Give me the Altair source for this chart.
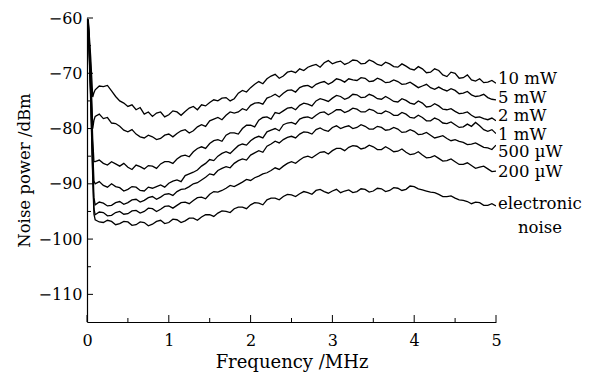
import altair as alt
import pandas as pd

# frequency grid (MHz): the low-frequency spike, then every 0.05 MHz from 0.1 to 5.0
spike_freq = [0.0, 0.015, 0.045, 0.07, 0.085]
grid_freq = [round(0.1 + 0.05 * i, 2) for i in range(99)]
freq = spike_freq + grid_freq

spike = {
    "10 mW": [-64.0, -60.2, -67.0, -74.3, -73.5],
    "5 mW": [-63.5, -60.4, -69.0, -80.0, -78.5],
    "2 mW": [-64.5, -60.6, -71.0, -82.0, -86.0],
    "1 mW": [-65.0, -60.8, -72.0, -84.0, -89.5],
    "500 µW": [-65.5, -61.0, -73.0, -86.0, -92.5],
    "200 µW": [-66.0, -61.2, -74.0, -88.0, -94.5],
    "electronic noise": [-66.5, -61.5, -75.0, -89.0, -95.5],
}

p10mW = [-73.0, -72.3, -72.4, -72.2, -73.2, -74.2, -75.0, -75.4, -76.0, -75.7,
         -76.6, -76.2, -77.4, -77.0, -77.8, -77.2, -77.0, -77.9, -77.5, -76.8,
         -77.0, -77.6, -76.9, -76.3, -76.0, -76.6, -75.7, -75.9, -75.3, -74.8,
         -75.0, -74.5, -74.4, -75.0, -74.6, -73.6, -73.1, -73.4, -72.6, -72.0,
         -71.5, -71.9, -71.0, -70.5, -70.2, -70.9, -70.5, -69.8, -69.6, -69.9,
         -69.2, -69.5, -68.9, -68.6, -68.4, -68.9, -68.1, -67.7, -68.3, -68.0,
         -67.8, -68.4, -68.1, -67.6, -67.7, -68.3, -68.2, -67.6, -67.9, -68.4,
         -68.6, -68.0, -68.3, -68.8, -68.9, -68.3, -68.7, -69.2, -69.4, -68.8,
         -69.2, -69.9, -69.8, -69.2, -69.5, -70.3, -70.6, -69.8, -70.0, -70.9,
         -70.8, -70.3, -71.2, -71.4, -71.0, -71.7, -71.6, -71.3, -71.8]
p5mW = [-77.8, -77.4, -78.2, -78.0, -79.0, -79.1, -79.6, -80.3, -80.6, -80.2,
        -81.0, -81.5, -81.7, -81.2, -81.5, -82.0, -81.8, -81.2, -81.0, -81.5,
        -80.9, -80.4, -80.2, -80.8, -80.4, -79.7, -79.3, -79.6, -78.6, -78.3,
        -78.0, -78.4, -77.6, -77.0, -77.2, -77.0, -76.4, -76.7, -75.8, -75.4,
        -75.3, -75.6, -74.5, -74.2, -73.8, -74.3, -73.6, -73.1, -73.0, -73.4,
        -72.6, -72.3, -72.2, -72.6, -72.0, -71.7, -71.5, -72.0, -71.6, -71.0,
        -71.2, -71.6, -71.0, -71.2, -71.3, -70.8, -70.9, -71.5, -71.4, -70.9,
        -71.2, -71.7, -71.6, -71.2, -71.5, -72.0, -71.9, -71.6, -72.1, -72.6,
        -72.3, -72.0, -72.6, -72.9, -72.5, -72.9, -73.2, -72.8, -73.1, -73.7,
        -73.6, -73.3, -73.9, -74.2, -74.1, -73.8, -74.4, -74.7, -74.8]
p2mW = [-86.0, -85.7, -86.3, -86.6, -86.0, -86.4, -86.8, -86.3, -87.0, -87.4,
        -86.6, -86.9, -87.3, -86.7, -86.8, -87.2, -86.4, -86.0, -86.0, -86.3,
        -85.5, -85.0, -84.8, -85.1, -84.2, -83.6, -83.3, -83.6, -82.7, -82.2,
        -82.0, -82.3, -81.2, -80.8, -80.8, -81.0, -80.0, -79.4, -79.4, -79.7,
        -78.5, -78.0, -77.9, -78.3, -77.1, -77.3, -76.8, -76.3, -76.2, -76.6,
        -75.8, -75.4, -75.6, -75.9, -75.0, -74.6, -74.8, -75.1, -74.5, -74.0,
        -74.2, -74.7, -74.4, -73.8, -73.9, -74.4, -74.3, -73.8, -74.1, -74.6,
        -74.7, -74.2, -74.6, -75.1, -75.2, -74.6, -74.9, -75.4, -75.6, -75.0,
        -75.4, -76.1, -76.0, -75.5, -75.9, -76.5, -76.6, -76.4, -76.9, -77.3,
        -77.2, -77.0, -77.6, -78.0, -77.9, -78.2, -78.4, -78.1, -78.6]
p1mW = [-90.0, -89.6, -90.3, -90.6, -90.0, -90.5, -90.7, -91.3, -91.0, -90.5,
        -90.6, -91.2, -91.3, -90.6, -90.8, -90.5, -90.2, -90.6, -89.9, -89.5,
        -89.3, -89.6, -88.5, -88.2, -87.9, -87.5, -86.8, -86.3, -85.6, -85.8,
        -85.0, -84.5, -84.2, -84.5, -83.8, -83.1, -82.8, -83.0, -82.2, -81.7,
        -81.4, -81.7, -80.6, -80.3, -80.0, -80.4, -79.3, -79.0, -78.9, -79.2,
        -78.3, -78.0, -77.9, -78.2, -77.6, -77.1, -77.0, -77.5, -77.1, -76.6,
        -76.6, -77.1, -76.8, -76.3, -76.5, -77.0, -77.0, -76.5, -76.7, -77.2,
        -77.3, -76.8, -77.1, -77.6, -77.6, -77.1, -77.4, -78.0, -78.1, -77.6,
        -78.0, -78.6, -78.6, -78.1, -78.4, -79.0, -79.1, -78.8, -79.3, -79.8,
        -79.7, -79.2, -79.6, -78.9, -79.5, -80.2, -80.5, -80.2, -80.9]
p500uW = [-93.8, -93.3, -93.5, -94.0, -93.9, -93.4, -93.2, -93.7, -93.4, -92.9,
          -92.8, -93.3, -93.0, -92.5, -92.3, -92.8, -92.4, -91.9, -91.8, -92.1,
          -91.4, -91.0, -90.9, -90.5, -90.0, -89.8, -89.3, -88.8, -88.2, -88.4,
          -87.6, -87.2, -86.9, -87.1, -86.3, -85.8, -85.5, -85.7, -84.8, -84.4,
          -84.0, -84.3, -83.2, -82.8, -82.3, -82.6, -82.0, -81.6, -81.4, -81.7,
          -81.0, -80.6, -80.7, -81.0, -80.2, -79.9, -80.3, -80.5, -79.8, -79.5,
          -80.0, -79.7, -79.5, -80.0, -79.8, -79.3, -79.6, -80.1, -80.1, -79.6,
          -79.8, -80.3, -80.2, -79.8, -80.1, -80.7, -80.6, -80.2, -80.5, -81.1,
          -81.0, -80.7, -81.2, -81.7, -81.5, -81.3, -81.8, -82.2, -82.0, -82.3,
          -82.5, -82.9, -82.8, -82.6, -83.0, -83.4, -83.5, -83.8, -83.0]
p200uW = [-95.6, -95.1, -95.2, -95.8, -95.7, -95.2, -95.0, -95.5, -95.4, -94.9,
          -94.8, -95.3, -95.0, -94.4, -94.5, -95.0, -94.6, -94.1, -94.0, -94.4,
          -93.9, -93.4, -93.3, -93.6, -93.0, -92.5, -92.4, -92.7, -91.9, -91.4,
          -91.5, -91.2, -90.8, -90.3, -90.5, -90.1, -89.7, -89.2, -89.4, -88.9,
          -88.6, -88.2, -88.0, -87.6, -87.1, -87.4, -86.8, -86.3, -86.0, -86.3,
          -85.7, -85.2, -85.0, -85.3, -84.8, -84.3, -84.2, -84.6, -84.0, -83.6,
          -83.6, -84.0, -83.4, -83.1, -83.2, -83.7, -83.5, -83.0, -83.3, -83.8,
          -83.8, -83.3, -83.7, -84.2, -84.1, -83.7, -84.3, -84.7, -84.6, -84.2,
          -84.8, -85.3, -85.2, -84.9, -85.4, -85.9, -85.8, -85.5, -86.0, -86.5,
          -86.5, -86.2, -86.7, -87.2, -87.0, -86.8, -87.3, -87.8, -87.7]
p_elec = [-96.5, -96.9, -97.0, -96.6, -96.8, -97.4, -97.2, -96.8, -96.9, -97.5,
          -97.4, -96.9, -97.0, -97.6, -97.3, -96.8, -96.6, -97.2, -97.0, -96.4,
          -96.5, -97.0, -96.7, -96.2, -96.2, -96.6, -96.0, -95.6, -95.6, -95.9,
          -95.3, -94.9, -95.0, -95.2, -94.5, -94.2, -94.2, -94.5, -93.8, -93.4,
          -93.5, -93.8, -92.9, -92.6, -92.6, -92.9, -92.3, -91.9, -92.0, -92.3,
          -91.8, -91.4, -91.6, -91.9, -91.2, -91.0, -91.4, -91.7, -91.3, -91.0,
          -91.6, -91.3, -91.1, -91.6, -91.4, -90.9, -91.0, -91.5, -91.3, -90.8,
          -90.9, -91.4, -91.2, -90.7, -90.8, -91.2, -91.0, -90.4, -90.5, -90.9,
          -91.1, -91.3, -91.5, -91.6, -91.9, -92.3, -92.3, -92.2, -92.6, -92.9,
          -93.0, -93.2, -93.6, -93.3, -93.4, -93.9, -93.9, -93.6, -94.0]

series_names = ["10 mW", "5 mW", "2 mW", "1 mW", "500 µW", "200 µW", "electronic noise"]
series_values = [p10mW, p5mW, p2mW, p1mW, p500uW, p200uW, p_elec]

label_text = ["10 mW", "5 mW", "2 mW", "1 mW", "500 µW", "200 µW", "electronic"]
label_y = [-71.0, -74.5, -77.8, -81.2, -84.3, -87.8, -93.6]
label2_text = ["noise"]
label2_y = [-98.0]

x_major = [0, 1, 2, 3, 4, 5]
x_minor = [0.5, 1.5, 2.5, 3.5, 4.5]
y_major = [-110, -100, -90, -80, -70, -60]
y_minor = [-105, -95, -85, -75, -65]

rows = []
for name, vals in zip(series_names, series_values):
    assert len(vals) == len(grid_freq), (name, len(vals))
    for f, v in zip(freq, spike[name] + vals):
        rows.append({"series": name, "freq": f, "power": v})
df = pd.DataFrame(rows)

FONT = "DejaVu Serif"
W, H = 409, 304

xscale = alt.Scale(domain=[0, 5], nice=False, zero=False)
yscale = alt.Scale(domain=[-115, -60], nice=False, zero=False)

xaxis = alt.Axis(values=x_major, format="d", ticks=False, grid=False, domainColor="black",
                 domainWidth=1.2, labelFont=FONT, labelFontSize=16, labelColor="black",
                 labelPadding=10, title="Frequency /MHz", titleFont=FONT,
                 titleFontSize=18, titleFontWeight="normal", titleColor="black",
                 titlePadding=5, labelFlush=False)
yaxis = alt.Axis(values=y_major, format="d", ticks=False, grid=False, domainColor="black",
                 domainWidth=1.2, labelFont=FONT, labelFontSize=16, labelColor="black",
                 labelPadding=5, title="Noise power /dBm", titleFont=FONT,
                 titleFontSize=16.5, titleFontWeight="normal", titleColor="black",
                 titlePadding=6, labelFlush=False)

lines = alt.Chart(df).mark_line(color="black", strokeWidth=1.3, clip=True).encode(
    x=alt.X("freq:Q", scale=xscale, axis=xaxis),
    y=alt.Y("power:Q", scale=yscale, axis=yaxis),
    detail="series:N",
    order="freq:Q",
)

xt_major = alt.Chart(pd.DataFrame({"v": x_major})).mark_rule(color="black", strokeWidth=1).encode(
    x=alt.X("v:Q", scale=xscale), y=alt.value(H), y2=alt.value(H - 7))
xt_minor = alt.Chart(pd.DataFrame({"v": x_minor})).mark_rule(color="black", strokeWidth=1).encode(
    x=alt.X("v:Q", scale=xscale), y=alt.value(H), y2=alt.value(H - 4))
yt_major = alt.Chart(pd.DataFrame({"v": y_major})).mark_rule(color="black", strokeWidth=1).encode(
    y=alt.Y("v:Q", scale=yscale), x=alt.value(0), x2=alt.value(6))
yt_minor = alt.Chart(pd.DataFrame({"v": y_minor})).mark_rule(color="black", strokeWidth=1).encode(
    y=alt.Y("v:Q", scale=yscale), x=alt.value(0), x2=alt.value(4))

labels = alt.Chart(pd.DataFrame({"t": label_text, "y": label_y, "x": [5] * len(label_text)})).mark_text(
    align="left", baseline="middle", font=FONT, fontSize=16.5, color="black", dx=2
).encode(x=alt.X("x:Q", scale=xscale), y=alt.Y("y:Q", scale=yscale), text="t:N")
labels2 = alt.Chart(pd.DataFrame({"t": label2_text, "y": label2_y, "x": [5]})).mark_text(
    align="center", baseline="middle", font=FONT, fontSize=16.5, color="black", dx=44
).encode(x=alt.X("x:Q", scale=xscale), y=alt.Y("y:Q", scale=yscale), text="t:N")

chart = alt.layer(lines, xt_major, xt_minor, yt_major, yt_minor, labels, labels2).properties(
    width=W, height=H,
    autosize="none",
    padding={"left": 87, "top": 18, "right": 600 - 87 - W, "bottom": 377 - 18 - H},
    background="white",
).configure_view(stroke=None)

chart.save("out.html", embed_options={"renderer": "svg", "actions": False})
